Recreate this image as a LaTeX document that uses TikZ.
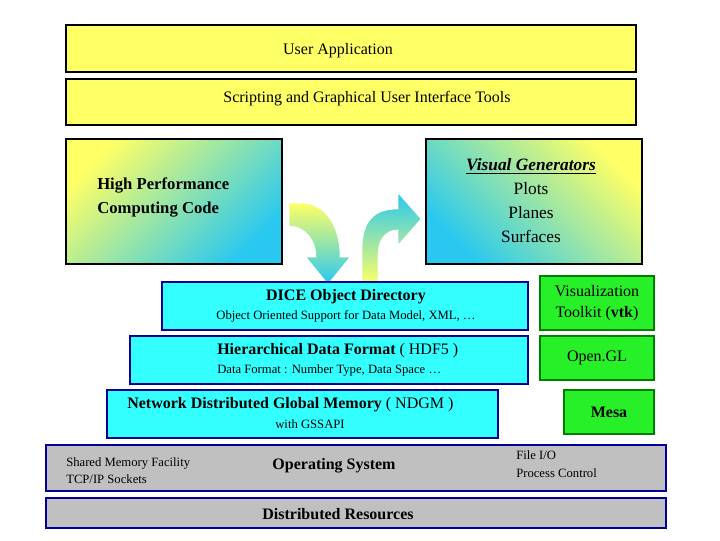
\documentclass[tikz,border=0pt]{standalone}
\usepackage{fontspec}
\setmainfont{Liberation Serif}
\usetikzlibrary{positioning}
\definecolor{paleyel}{RGB}{255,255,102}
\definecolor{boxcyan}{RGB}{51,255,255}
\definecolor{shadecyan}{RGB}{40,200,240}
\definecolor{boxgreen}{RGB}{40,240,40}
\definecolor{darkgreen}{RGB}{0,128,0}
\definecolor{darkblue}{RGB}{0,0,150}
\definecolor{boxgray}{RGB}{192,192,192}
\begin{document}
\begin{tikzpicture}[x=0.75pt,y=-0.75pt]
    \tikzstyle{ybox} = [rectangle, draw=black, line width=1.5pt, fill=paleyel, inner sep=0pt]
    \tikzstyle{cbox} = [rectangle, draw=darkblue, line width=1.5pt, fill=boxcyan, inner sep=0pt]
    \tikzstyle{vbox} = [rectangle, draw=darkgreen, line width=1.5pt, fill=boxgreen, inner sep=0pt]
    \tikzstyle{sbox} = [rectangle, draw=darkblue, line width=1.5pt, fill=boxgray, inner sep=0pt]
    \tikzstyle{big} = [font=\fontsize{12}{14}\selectfont, inner sep=0pt]
    \tikzstyle{bigb} = [big, font=\fontsize{12}{14}\selectfont\bfseries]
    \tikzstyle{small} = [font=\fontsize{9.5}{12}\selectfont, inner sep=0pt, align=left]
    \tikzstyle{bentarrow} = [draw=white, line width=0.4pt, top color=paleyel, bottom color=shadecyan]

    \useasboundingbox (0,0) rectangle (720,540);

    % upper layers
    \node[ybox, minimum width=570*0.75pt, minimum height=47*0.75pt] (app) at (351,48.5) {};
    \node[big] (apptxt) at (338,51) {User Application};
    \node[ybox, minimum width=570*0.75pt, minimum height=46*0.75pt] (gui) at (351,102) {};
    \node[big] (guitxt) at (367,99) {Scripting and Graphical User Interface Tools};

    \node[ybox, top color=paleyel, bottom color=shadecyan, shading angle=45, minimum width=216*0.75pt, minimum height=125*0.75pt] (hpc) at (174,201.5) {};
    \node[bigb, align=left, anchor=west, font=\fontsize{12.5}{18}\selectfont\bfseries] (hpctxt) at (97,197) {High Performance\\Computing Code};
    \node[ybox, top color=paleyel, bottom color=shadecyan, shading angle=-45, minimum width=216*0.75pt, minimum height=125*0.75pt] (vis) at (534,201.5) {};
    \node[big, align=center, font=\fontsize{13}{18}\selectfont] (vistxt) at (531,201) {\textbf{\textit{\underline{Visual Generators}}}\\Plots\\Planes\\Surfaces};

    % bent arrows
    \path[bentarrow] (289,203) -- (300,203) .. controls (325,203) and (340,225) .. (340,257)
        -- (350,257) -- (328,284) -- (306,257) -- (316,257)
        .. controls (316,240) and (305,226) .. (289,226) -- cycle;
    \path[bentarrow, top color=shadecyan, bottom color=paleyel] (362,284) -- (362,250) .. controls (362,215) and (380,209) .. (398,209)
        -- (398,193) -- (421,219) -- (398,245) -- (398,230)
        .. controls (385,230) and (378,240) .. (378,255) -- (378,284) -- cycle;

    % data layers
    \node[cbox, minimum width=366*0.75pt, minimum height=48*0.75pt] (dice) at (345,306) {};
    \node[bigb] (dicetxt) at (346,297) {DICE Object Directory};
    \node[small] (dicesub) at (346,316) {Object Oriented Support for Data Model, XML, \dots};
    \node[cbox, minimum width=398*0.75pt, minimum height=48*0.75pt] (hdf) at (329,360) {};
    \node[bigb, anchor=west] (hdftxt) at (217,351) {Hierarchical Data Format \mdseries( HDF5 )};
    \node[small, anchor=west] (hdfsub) at (217,370) {Data Format : Number Type, Data Space \dots};
    \node[cbox, minimum width=391*0.75pt, minimum height=48*0.75pt] (ndgm) at (302.5,414) {};
    \node[bigb, anchor=west] (ndgmtxt) at (127,405) {Network Distributed Global Memory \mdseries( NDGM )};
    \node[small] (ndgmsub) at (310,424) {with GSSAPI};

    % graphics libraries
    \node[vbox, minimum width=114*0.75pt, minimum height=54*0.75pt, align=center, font=\fontsize{12}{16}\selectfont] (vtk) at (597,303) {Visualization\\Toolkit (\textbf{vtk})};
    \node[vbox, minimum width=114*0.75pt, minimum height=44*0.75pt, font=\fontsize{12}{14}\selectfont] (ogl) at (597,358) {Open.GL};
    \node[vbox, minimum width=90*0.75pt, minimum height=44*0.75pt, font=\fontsize{12}{14}\selectfont\bfseries] (mesa) at (609,412) {Mesa};

    % system layers
    \node[sbox, minimum width=620*0.75pt, minimum height=46*0.75pt] (os) at (356,468) {};
    \node[small, anchor=west, font=\fontsize{9.5}{13}\selectfont] (ostxtl) at (66,470.5) {Shared Memory Facility\\TCP/IP Sockets};
    \node[bigb] (ostxt) at (334,466) {Operating System};
    \node[small, anchor=west, font=\fontsize{9.5}{13}\selectfont] (ostxtr) at (516,464) {File I/O\\Process Control};
    \node[sbox, minimum width=620*0.75pt, minimum height=30*0.75pt] (res) at (356,513) {};
    \node[bigb] (restxt) at (338,514) {Distributed Resources};
\end{tikzpicture}
\end{document}
